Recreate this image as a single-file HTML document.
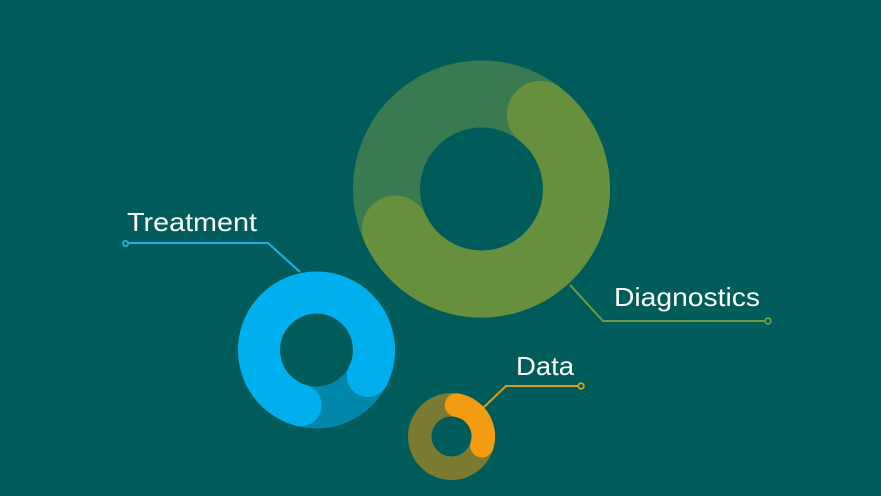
<!DOCTYPE html>
<html><head><style>html,body{margin:0;padding:0;background:#005c5a;overflow:hidden}</style></head>
<body>
<svg width="881" height="491" viewBox="0 0 881 491" xmlns="http://www.w3.org/2000/svg">
<rect width="881" height="491" fill="#005c5a"/>
<circle cx="481.5" cy="189" r="95" fill="none" stroke="#3a7a50" stroke-width="67"/>
<path d="M 540.3 114.4 A 95 95 0 1 1 395.4 229.1" fill="none" stroke="#66903e" stroke-width="67" stroke-linecap="round"/>
<circle cx="316.5" cy="350" r="57.5" fill="none" stroke="#0087aa" stroke-width="42"/>
<path d="M 367.8 376 A 57.5 57.5 0 1 0 300.6 405.3" fill="none" stroke="#00b0ee" stroke-width="42" stroke-linecap="round"/>
<circle cx="451.5" cy="436.5" r="31.75" fill="none" stroke="#7a7a30" stroke-width="23.5"/>
<path d="M 456.5 405.1 A 31.75 31.75 0 0 1 481.9 445.8" fill="none" stroke="#f39c12" stroke-width="23.5" stroke-linecap="round"/>
<polyline points="128,243 268,243 300,272" fill="none" stroke="#1fb0e8" stroke-width="2"/>
<circle cx="125.5" cy="243.5" r="2.6" fill="#005c5a" stroke="#1fb0e8" stroke-width="1.8"/>
<polyline points="570,285 603,321 765,321" fill="none" stroke="#6f9a3e" stroke-width="2"/>
<circle cx="768" cy="321" r="2.8" fill="#005c5a" stroke="#6f9a3e" stroke-width="1.8"/>
<polyline points="483,408 506,386 578,386" fill="none" stroke="#e09a18" stroke-width="2"/>
<circle cx="581" cy="386" r="2.8" fill="#005c5a" stroke="#e09a18" stroke-width="1.8"/>
<g font-family="Liberation Sans, sans-serif" fill="#ffffff" font-size="26">
<text x="127" y="231" textLength="130" lengthAdjust="spacingAndGlyphs">Treatment</text>
<text x="614" y="306" textLength="146" lengthAdjust="spacingAndGlyphs">Diagnostics</text>
<text x="516" y="375" textLength="58" lengthAdjust="spacingAndGlyphs">Data</text>
</g>
</svg>
</body></html>
